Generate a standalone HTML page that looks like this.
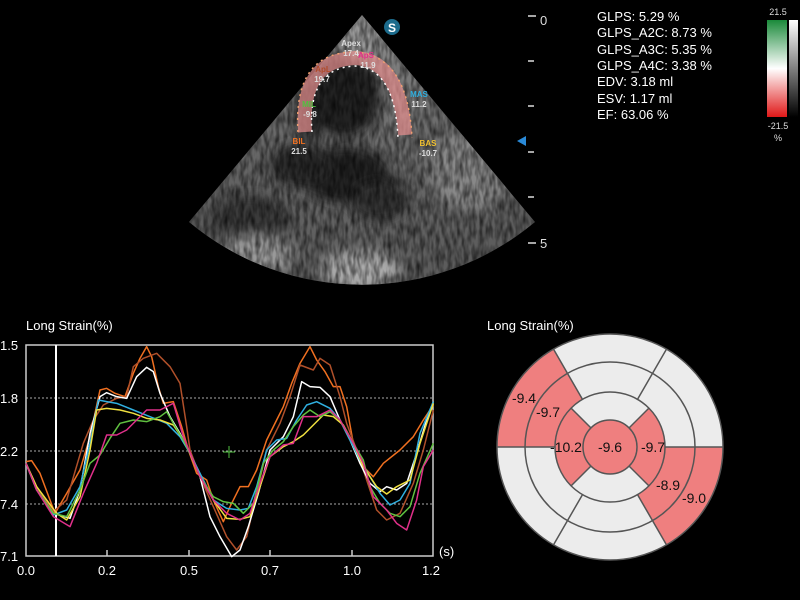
<!DOCTYPE html>
<html><head><meta charset="utf-8"><style>
body{margin:0;background:#000;width:800px;height:600px;overflow:hidden;font-family:"Liberation Sans",sans-serif}
svg{position:absolute;left:0;top:0}
</style></head><body>
<svg width="800" height="600" viewBox="0 0 800 600">
<defs>
<clipPath id="sec"><path d="M362,15 L189,222 A270,270 0 0 0 535,222 Z"/></clipPath>
<radialGradient id="us" cx="362" cy="15" r="280" gradientUnits="userSpaceOnUse">
<stop offset="0" stop-color="#8a8a8a"/><stop offset="0.5" stop-color="#6a6a6a"/><stop offset="1" stop-color="#5a5a5a"/></radialGradient>
<filter id="bl" x="-50%" y="-50%" width="200%" height="200%"><feGaussianBlur stdDeviation="6"/></filter>
<filter id="noise"><feTurbulence type="fractalNoise" baseFrequency="0.25 0.08" numOctaves="2" seed="3"/><feColorMatrix type="matrix" values="0 0 0 0 0  0 0 0 0 0  0 0 0 0 0  0 0 0 -1.6 1.1"/></filter>
<linearGradient id="cb" x1="0" y1="0" x2="0" y2="1"><stop offset="0" stop-color="#1a8a3a"/><stop offset="0.5" stop-color="#fff"/><stop offset="1" stop-color="#e01818"/></linearGradient>
<linearGradient id="cb2" x1="0" y1="0" x2="0" y2="1"><stop offset="0" stop-color="#fff"/><stop offset="1" stop-color="#000"/></linearGradient>
</defs>
<rect width="800" height="600" fill="#000"/>
<g clip-path="url(#sec)">
<rect x="180" y="10" width="370" height="290" fill="url(#us)"/>
<g filter="url(#bl)">
<ellipse cx="345" cy="95" rx="35" ry="42" fill="#222"/>
<ellipse cx="310" cy="110" rx="15" ry="30" fill="#282828"/>
<ellipse cx="345" cy="175" rx="45" ry="28" fill="#222"/>
<ellipse cx="300" cy="165" rx="30" ry="22" fill="#2a2a2a"/>
<ellipse cx="250" cy="220" rx="40" ry="25" fill="#3a3a3a"/>
<ellipse cx="380" cy="200" rx="30" ry="20" fill="#303030"/>
<ellipse cx="470" cy="170" rx="40" ry="40" fill="#888"/>
<ellipse cx="360" cy="270" rx="40" ry="20" fill="#aaa"/>
<ellipse cx="255" cy="255" rx="40" ry="20" fill="#999"/>
<ellipse cx="362" cy="40" rx="20" ry="20" fill="#999"/>
</g>
<rect x="180" y="10" width="370" height="290" filter="url(#noise)" opacity="0.7"/>
</g>
<path d="M305,132 Q300,60 355,58 Q400,60 405,135" fill="none" stroke="#e89090" stroke-width="14" opacity="0.7"/>
<path d="M298,132 Q293,52 355,52 Q408,55 412,138" fill="none" stroke="#f0a070" stroke-width="1.5" stroke-dasharray="2,4"/>
<path d="M312,132 Q307,68 355,66 Q395,68 398,138" fill="none" stroke="#fff" stroke-width="1.5" stroke-dasharray="2,4"/>
<circle cx="392" cy="27" r="8" fill="#1c6b8c"/><text x="392" y="32" fill="#fff" font-size="12" font-weight="bold" text-anchor="middle">S</text>
<g font-size="8" font-weight="bold" text-anchor="middle">
<text x="351" y="46" fill="#ddd">Apex</text><text x="351" y="56" fill="#ddd">17.4</text>
<text x="366" y="58" fill="#e0308a">ApS</text><text x="368" y="68" fill="#ddd">11.9</text>
<text x="323" y="72" fill="#b04a2a">ApL</text><text x="322" y="82" fill="#ddd">19.7</text>
<text x="309" y="107" fill="#50c040">MIL</text><text x="310" y="117" fill="#ddd">-9.8</text>
<text x="419" y="97" fill="#30b0e0">MAS</text><text x="419" y="107" fill="#ddd">11.2</text>
<text x="299" y="144" fill="#f07020">BIL</text><text x="299" y="154" fill="#ddd">21.5</text>
<text x="428" y="146" fill="#f0c030">BAS</text><text x="428" y="156" fill="#ddd">-10.7</text>
</g>
<g stroke="#ddd" stroke-width="1.5">
<line x1="528" y1="16" x2="536" y2="16"/><line x1="528" y1="61" x2="534" y2="61"/><line x1="528" y1="106" x2="534" y2="106"/><line x1="528" y1="152" x2="534" y2="152"/><line x1="528" y1="197" x2="534" y2="197"/><line x1="528" y1="243" x2="536" y2="243"/>
</g>
<text x="540" y="25" fill="#ddd" font-size="13">0</text><text x="540" y="248" fill="#ddd" font-size="13">5</text>
<path d="M517,141 L526,136 L526,146 Z" fill="#2a8ad8"/>
<g fill="#fff" font-size="13">
<text x="597" y="21">GLPS: 5.29 %</text><text x="597" y="37">GLPS_A2C: 8.73 %</text><text x="597" y="54">GLPS_A3C: 5.35 %</text><text x="597" y="70">GLPS_A4C: 3.38 %</text><text x="597" y="86">EDV: 3.18 ml</text><text x="597" y="103">ESV: 1.17 ml</text><text x="597" y="119">EF: 63.06 %</text>
</g>
<rect x="767" y="20" width="20" height="97" fill="url(#cb)"/>
<rect x="789" y="20" width="9" height="97" fill="url(#cb2)"/>
<g fill="#ddd" font-size="9" text-anchor="middle"><text x="778" y="15">21.5</text><text x="778" y="129">-21.5</text><text x="778" y="141">%</text></g>

<text x="26" y="330" fill="#fff" font-size="13">Long Strain(%)</text>
<g stroke="#aaa" stroke-width="1" stroke-dasharray="2,2"><line x1="26" y1="398" x2="433" y2="398"/><line x1="26" y1="451" x2="433" y2="451"/><line x1="26" y1="504" x2="433" y2="504"/></g>
<rect x="26" y="345" width="407" height="211" fill="none" stroke="#ccc" stroke-width="1.5"/>
<g stroke="#ccc" stroke-width="1.5"><line x1="107" y1="550" x2="107" y2="556"/><line x1="189" y1="550" x2="189" y2="556"/><line x1="270" y1="550" x2="270" y2="556"/><line x1="352" y1="550" x2="352" y2="556"/></g>
<g fill="#fff" font-size="13"><text x="0" y="350">1.5</text><text x="0" y="403">1.8</text><text x="0" y="456">2.2</text><text x="0" y="509">7.4</text><text x="0" y="561">7.1</text>
<text x="439" y="556">(s)</text></g>
<g fill="#fff" font-size="13" text-anchor="middle"><text x="26" y="575">0.0</text><text x="107" y="575">0.2</text><text x="189" y="575">0.5</text><text x="270" y="575">0.7</text><text x="352" y="575">1.0</text><text x="431" y="575">1.2</text></g>
<line x1="56" y1="345" x2="56" y2="556" stroke="#fff" stroke-width="2"/>
<g stroke="#50c040" stroke-width="1"><line x1="223" y1="452" x2="235" y2="452"/><line x1="229" y1="446" x2="229" y2="458"/></g>
<g transform="translate(0,310) scale(0.33333)" fill="none" stroke-width="4.5" stroke-linejoin="round">
<polyline stroke="#f07020" points="78,455 95,452 120,490 165,610 200,550 240,480 270,380 300,240 320,235 345,250 375,260 400,190 420,145 440,110 455,140 475,230 490,280 520,275 545,350 565,420 590,490 620,510 640,570 670,635 690,590 720,530 745,530 770,480 800,390 830,330 850,290 875,220 900,160 930,110 950,150 975,185 1000,230 1020,230 1040,290 1060,400 1080,460 1100,480 1120,500 1150,460 1200,420 1240,380 1270,330 1300,285"/>
<polyline stroke="#b0502a" points="78,460 110,530 160,605 200,570 250,400 280,330 310,285 350,265 380,260 400,170 430,145 470,130 510,170 540,220 560,350 570,420 600,500 640,590 680,680 710,720 740,680 770,550 800,420 840,340 870,260 900,165 940,180 960,145 990,165 1020,260 1040,340 1070,420 1100,510 1130,600 1160,630 1200,610 1240,520 1270,420 1300,300"/>
<polyline stroke="#fff" points="78,460 110,540 160,610 210,625 240,540 270,370 300,260 320,248 350,260 380,265 410,200 440,172 460,185 480,250 510,320 540,370 570,430 600,500 630,620 660,680 695,740 720,720 745,650 775,550 810,420 850,380 880,320 905,215 930,230 960,232 990,260 1020,330 1050,390 1080,460 1110,520 1140,545 1160,530 1190,540 1220,520 1250,430 1280,330 1300,275"/>
<polyline stroke="#30b0e0" points="78,460 110,540 160,615 200,600 240,530 270,400 295,270 320,275 350,280 400,300 450,320 500,340 540,380 570,430 600,490 640,570 680,595 720,600 745,595 770,530 800,420 830,390 860,385 890,330 920,285 950,275 990,295 1020,330 1050,390 1080,450 1110,500 1140,550 1170,585 1200,570 1230,520 1260,370 1300,275"/>
<polyline stroke="#f0e040" points="78,460 110,530 170,610 200,630 240,560 270,420 290,300 320,295 360,300 400,310 440,325 480,330 520,345 550,390 575,440 600,500 640,570 680,625 720,628 750,620 780,530 810,440 850,410 880,395 910,375 940,345 970,315 1000,320 1030,345 1060,400 1090,470 1130,530 1160,552 1190,530 1230,510 1260,400 1300,280"/>
<polyline stroke="#60c040" points="78,460 110,540 160,610 200,620 240,540 270,460 300,435 330,385 360,340 400,330 440,335 480,320 500,305 520,340 550,390 575,440 600,500 640,560 670,575 700,580 730,610 760,580 790,460 820,420 850,395 880,350 910,315 930,300 960,320 990,305 1020,330 1060,400 1090,450 1110,530 1140,580 1170,610 1200,620 1230,590 1260,490 1300,400"/>
<polyline stroke="#e0308a" points="78,460 110,540 160,620 210,650 250,550 290,460 320,375 350,375 380,360 410,330 440,300 480,300 520,280 550,380 575,440 600,500 640,570 680,610 720,630 750,610 780,520 810,440 850,405 880,400 910,320 950,320 990,300 1020,330 1060,400 1090,460 1120,560 1160,600 1190,640 1220,660 1250,570 1270,470 1300,420"/>
</g>

<text x="487" y="330" fill="#fff" font-size="13">Long Strain(%)</text>
<circle cx="610" cy="447" r="113" fill="#ececec"/>
<g fill="#ef7f7f">
<path d="M497,447 A113,113 0 0 1 553.5,349.1 L567.5,373.4 A85,85 0 0 0 525,447 Z"/>
<path d="M723,447 A113,113 0 0 1 666.5,544.9 L652.5,520.6 A85,85 0 0 0 695,447 Z"/>
<path d="M525,447 A85,85 0 0 1 567.5,373.4 L582.5,399.4 A55,55 0 0 0 555,447 Z"/>
<path d="M695,447 A85,85 0 0 1 652.5,520.6 L637.5,494.6 A55,55 0 0 0 665,447 Z"/>
<path d="M571.1,485.9 A55,55 0 0 1 571.1,408.1 L590.9,427.9 A27,27 0 0 0 590.9,466.1 Z"/>
<path d="M648.9,408.1 A55,55 0 0 1 648.9,485.9 L629.1,466.1 A27,27 0 0 0 629.1,427.9 Z"/>
<circle cx="610" cy="447" r="27"/>
</g>
<g fill="none" stroke="#555" stroke-width="1.5">
<circle cx="610" cy="447" r="113"/><circle cx="610" cy="447" r="85"/><circle cx="610" cy="447" r="55"/><circle cx="610" cy="447" r="27"/>
<line x1="497" y1="447" x2="555" y2="447"/><line x1="665" y1="447" x2="723" y2="447"/>
<line x1="553.5" y1="349.1" x2="582.5" y2="399.4"/><line x1="666.5" y1="349.1" x2="637.5" y2="399.4"/>
<line x1="553.5" y1="544.9" x2="582.5" y2="494.6"/><line x1="666.5" y1="544.9" x2="637.5" y2="494.6"/>
<line x1="571.1" y1="485.9" x2="590.9" y2="466.1"/><line x1="571.1" y1="408.1" x2="590.9" y2="427.9"/>
<line x1="648.9" y1="408.1" x2="629.1" y2="427.9"/><line x1="648.9" y1="485.9" x2="629.1" y2="466.1"/>
</g>
<g fill="#111" font-size="14" text-anchor="middle">
<text x="524" y="403">-9.4</text><text x="548" y="417">-9.7</text><text x="566" y="452">-10.2</text><text x="610" y="452">-9.6</text><text x="653" y="452">-9.7</text><text x="668" y="490">-8.9</text><text x="694" y="503">-9.0</text>
</g>
</svg>
</body></html>
